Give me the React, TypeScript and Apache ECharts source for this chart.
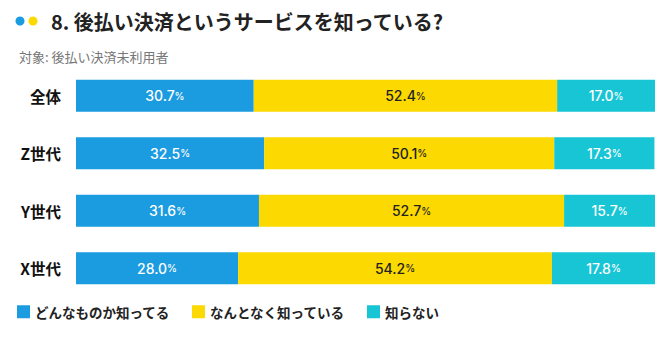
import React, { useEffect, useRef } from "react";
import * as echarts from "echarts";

const categories = ["全体", "Z世代", "Y世代", "X世代"];
const seriesNames = ["どんなものか知ってる", "なんとなく知っている", "知らない"];
const knowWell = [30.7, 32.5, 31.6, 28.0];
const knowVaguely = [52.4, 50.1, 52.7, 54.2];
const dontKnow = [17.0, 17.3, 15.7, 17.8];
const colors = ["#1b9be0", "#fcd900", "#17c5d5"];
const labelColors = ["#ffffff", "#222222", "#ffffff"];

const FONT = '"Noto Sans CJK JP", "Noto Sans", sans-serif';
const NUM_FONT = 'Inter, Roboto, sans-serif';

export default function App() {
  const ref = useRef<HTMLDivElement>(null);
  useEffect(() => {
    if (!ref.current) return;
    const chart = echarts.init(ref.current, undefined, { renderer: "svg" });
    const values = [knowWell, knowVaguely, dontKnow];
    chart.setOption({
      animation: false,
      textStyle: { fontFamily: FONT },
      title: [
        {
          text: "8. 後払い決済というサービスを知っている?",
          left: 46,
          top: 6,
          textStyle: { fontFamily: FONT, fontSize: 20, fontWeight: "bold", color: "#222" },
        },
        {
          text: "対象: 後払い決済未利用者",
          left: 14,
          top: 45,
          textStyle: { fontFamily: FONT, fontSize: 13, fontWeight: "normal", color: "#777" },
        },
      ],
      graphic: [
        { type: "circle", shape: { cx: 20, cy: 21, r: 4.5 }, style: { fill: colors[0] } },
        { type: "circle", shape: { cx: 33, cy: 21, r: 4.5 }, style: { fill: colors[1] } },
      ],
      legend: {
        left: 12,
        top: 300,
        itemWidth: 13,
        itemHeight: 13,
        itemGap: 22,
        icon: "rect",
        textStyle: { fontFamily: FONT, fontSize: 13.5, fontWeight: "bold", color: "#222" },
        data: seriesNames,
      },
      grid: { left: 76, right: 15, top: 67, bottom: 46 },
      xAxis: { type: "value", min: 0, max: 100, show: false },
      yAxis: {
        type: "category",
        data: categories,
        inverse: true,
        axisLine: { show: false },
        axisTick: { show: false },
        axisLabel: {
          margin: 15,
          fontFamily: FONT,
          fontSize: 15.5,
          fontWeight: "bold",
          color: "#111",
        },
      },
      series: seriesNames.map((name, i) => ({
        name,
        type: "bar",
        stack: "total",
        barWidth: 32,
        itemStyle: { color: colors[i] },
        label: {
          show: true,
          position: "inside",
          formatter: (p: any) => `{n|${p.value.toFixed(1)}}{p|%}`,
          rich: {
            n: { fontFamily: NUM_FONT, fontSize: 14, fontWeight: 500, color: labelColors[i] },
            p: { fontFamily: NUM_FONT, fontSize: 10, fontWeight: 500, color: labelColors[i] },
          },
        },
        data: values[i],
      })),
    });
    return () => chart.dispose();
  }, []);
  return <div ref={ref} style={{ width: 670, height: 343, margin: -8, background: "#fff" }} />;
}
